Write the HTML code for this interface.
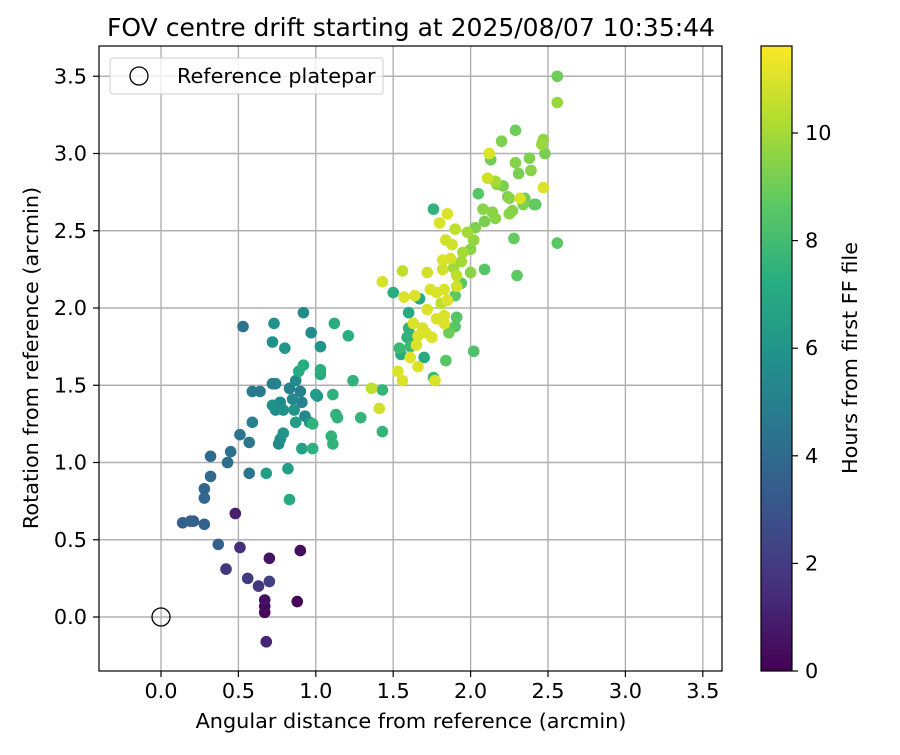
<!DOCTYPE html>
<html><head><meta charset="utf-8"><style>
body{margin:0;background:#fff}
svg text{font-family:"DejaVu Sans","Liberation Sans",sans-serif;fill:#000}
</style></head><body>
<svg id="chart" width="900" height="750" xmlns="http://www.w3.org/2000/svg">
<defs><linearGradient id="vir" x1="0" y1="1" x2="0" y2="0">
<stop offset="0" stop-color="#440154"/><stop offset="0.125" stop-color="#472d7b"/><stop offset="0.25" stop-color="#3b528b"/><stop offset="0.375" stop-color="#2c728e"/><stop offset="0.5" stop-color="#21918c"/><stop offset="0.625" stop-color="#28ae80"/><stop offset="0.75" stop-color="#5ec962"/><stop offset="0.875" stop-color="#addc30"/><stop offset="1" stop-color="#fde725"/></linearGradient>
<clipPath id="clip"><rect x="99" y="46" width="623" height="625"/></clipPath></defs>
<g id="grid"></g>
<g id="pts" clip-path="url(#clip)"></g>
<rect x="99" y="46" width="623" height="625" fill="none" stroke="#000" stroke-width="1.2"/>
<g id="ticks"></g>
<text x="411" y="36" font-size="25" text-anchor="middle">FOV centre drift starting at 2025/08/07 10:35:44</text>
<text x="411" y="728" font-size="20.8" text-anchor="middle">Angular distance from reference (arcmin)</text>
<text x="0" y="0" font-size="20.8" text-anchor="middle" transform="translate(38,358) rotate(-90)">Rotation from reference (arcmin)</text>
<g>
<rect x="110" y="58" width="273" height="36" rx="3" fill="#fff" fill-opacity="0.8" stroke="#ccc"/>
<circle cx="139" cy="76" r="9" fill="none" stroke="#000" stroke-width="1.3"/>
<text x="177" y="83" font-size="20.8">Reference platepar</text></g>
<rect x="761" y="46" width="31" height="625" fill="url(#vir)" stroke="#000" stroke-width="1.2"/>
<g id="cbt"></g>
<text x="0" y="0" font-size="20.8" text-anchor="middle" transform="translate(857,358) rotate(-90)">Hours from first FF file</text>
</svg>
<script>
const xVals=[0.48,0.51,0.42,0.56,0.63,0.67,0.67,0.67,0.68,0.70,0.70,0.90,0.88,0.14,0.19,0.21,0.28,0.28,0.28,0.32,0.32,0.37,0.43,0.45,0.51,0.57,0.57,0.53,0.59,0.59,0.64,0.72,0.74,0.77,0.74,0.76,0.77,0.79,0.80,0.73,0.72,0.72,0.79,0.82,0.83,0.68,0.83,0.85,0.87,0.86,0.87,0.90,0.89,0.91,0.92,0.92,0.93,0.91,0.96,0.97,0.98,0.98,1.00,1.03,1.03,1.03,1.01,1.10,1.11,1.12,1.11,1.13,1.14,1.21,1.24,1.29,1.36,1.41,1.43,1.43,1.43,1.50,1.53,1.54,1.56,1.55,1.56,1.57,1.59,1.60,1.60,1.61,1.61,1.62,1.63,1.64,1.65,1.66,1.67,1.66,1.69,1.70,1.71,1.72,1.72,1.74,1.75,1.76,1.76,1.77,1.78,1.78,1.80,1.81,1.82,1.82,1.83,1.83,1.83,1.84,1.84,1.85,1.85,1.86,1.87,1.88,1.89,1.90,1.90,1.90,1.91,1.91,1.91,1.94,1.94,1.95,1.98,2.00,2.00,2.02,2.02,2.03,2.05,2.08,2.09,2.09,2.11,2.12,2.13,2.14,2.16,2.16,2.17,2.20,2.21,2.24,2.25,2.25,2.27,2.28,2.29,2.29,2.30,2.31,2.32,2.34,2.35,2.38,2.39,2.41,2.42,2.46,2.47,2.47,2.48,2.56,2.56,2.56];
const yVals=[0.67,0.45,0.31,0.25,0.20,0.11,0.07,0.03,-0.16,0.38,0.23,0.43,0.10,0.61,0.62,0.62,0.60,0.77,0.83,1.04,0.91,0.47,1.00,1.07,1.18,1.13,0.93,1.88,1.46,1.26,1.46,1.51,1.51,1.39,1.34,1.12,1.15,1.19,1.74,1.90,1.78,1.37,1.34,0.96,0.76,0.93,1.48,1.41,1.53,1.34,1.26,1.46,1.59,1.39,1.63,1.97,1.30,1.09,1.26,1.84,1.25,1.09,1.44,1.75,1.57,1.60,1.43,1.17,1.12,1.90,1.44,1.31,1.29,1.82,1.53,1.29,1.48,1.35,1.47,1.20,2.17,2.10,1.59,1.74,1.53,1.70,2.24,2.07,1.81,1.97,1.87,1.75,1.68,1.82,1.90,2.08,1.76,1.62,2.06,1.82,1.87,1.68,1.84,1.99,2.23,2.12,1.81,1.55,2.64,1.53,1.93,2.10,2.55,2.03,2.31,2.25,2.12,1.95,1.90,2.44,1.66,2.61,2.05,1.84,2.32,2.41,2.26,1.88,2.08,2.51,2.21,1.94,2.14,2.30,2.16,2.36,2.49,2.38,2.23,1.72,2.44,2.52,2.74,2.64,2.25,2.56,2.84,3.00,2.96,2.62,2.82,2.58,2.80,3.08,2.79,2.72,2.71,2.61,2.63,2.45,3.15,2.94,2.21,2.87,2.71,2.67,2.71,2.97,2.89,2.67,2.67,3.06,3.09,2.78,3.00,3.50,3.33,2.42];
const hours=[1.0,1.5,1.8,2,1.8,0.5,0.3,0.2,1.2,0.6,2.2,0.4,0.1,3.5,3.6,3.4,3.6,3.8,3.8,4,4,3.6,4.2,4.3,4.5,4.6,4.5,4.4,4.7,5,4.8,4.9,5,5.5,5.5,5.5,5.6,6,6,5.8,5.8,5.8,5.8,6.5,7,6.5,5,5.4,5.5,6,6.4,5,7,5,7.2,5.5,5.3,6.6,6,5.6,7.5,7.4,6.3,6,7,7.3,6,7.5,7.5,7.2,7.4,7.5,7.5,7.3,7.5,7.6,10.5,10.8,7.6,7.6,10.9,7.2,11,7.8,11,7,10.5,11,7.5,7,7.5,7.8,11,7,11,11,11,11,7,11,11,7,11,11,10.8,11,11,8,7.5,11,11,11,11,10.5,11,10.8,11,11,11,10.8,8.5,11,11,9,11,10.8,10,8.5,8.6,10.5,10.5,8.5,10.8,10,8.6,10,10,9.5,9.5,8.3,9.7,9.3,8.5,9.5,8.5,9.2,10.8,11,9,9.5,10,9.5,9.5,9.3,9.2,9.2,9.5,9.5,9.4,8.8,9,9.4,8.7,9.2,11,9.3,9,9.3,9.5,8.8,8.5,9.8,9.6,11,9.2,9,9.8,8.6];
const xTicks=["0.0","0.5","1.0","1.5","2.0","2.5","3.0","3.5"];
const yTicks=["0.0","0.5","1.0","1.5","2.0","2.5","3.0","3.5"];
const cTicks=["0","2","4","6","8","10"];
const X=v=>161+v*154.8, Y=v=>617-v*154.5, C=v=>671-v*53.8, HMAX=11.62;
const vir=["#440154","#472d7b","#3b528b","#2c728e","#21918c","#28ae80","#5ec962","#addc30","#fde725"];
function hex(c){return [1,3,5].map(i=>parseInt(c.substr(i,2),16))}
function col(h){let t=Math.max(0,Math.min(1,h/HMAX))*8,i=Math.min(7,Math.floor(t)),f=t-i,a=hex(vir[i]),b=hex(vir[i+1]);return "rgb("+a.map((v,k)=>Math.round(v+(b[k]-v)*f)).join(",")+")"}
const NS="http://www.w3.org/2000/svg";
function mk(tag,attrs,parent){const e=document.createElementNS(NS,tag);for(const k in attrs)e.setAttribute(k,attrs[k]);document.getElementById(parent).appendChild(e);return e}
xTicks.forEach(t=>{const x=X(+t);
 const g=mk("line",{x1:x,x2:x,y1:46,y2:671,stroke:"#b0b0b0","stroke-width":1.4},"grid");
 
 
 mk("line",{x1:x,x2:x,y1:671,y2:677,stroke:"#000","stroke-width":1.2},"ticks");
 const l=mk("text",{x:x,y:698,"font-size":20.8,"text-anchor":"middle"},"ticks");l.textContent=t;
 
 });
yTicks.forEach(t=>{const y=Y(+t);
 const g=mk("line",{x1:99,x2:722,y1:y,y2:y,stroke:"#b0b0b0","stroke-width":1.4},"grid");
 
 
 mk("line",{x1:93,x2:99,y1:y,y2:y,stroke:"#000","stroke-width":1.2},"ticks");
 const l=mk("text",{x:87,y:y+7,"font-size":20.8,"text-anchor":"end"},"ticks");l.textContent=t;
 
 });
cTicks.forEach(t=>{const y=C(+t);
 mk("line",{x1:792,x2:798,y1:y,y2:y,stroke:"#000","stroke-width":1.2},"cbt");
 const l=mk("text",{x:805,y:y+7,"font-size":20.8},"cbt");l.textContent=t;
 
 });
const order=hours.map((h,i)=>i).sort((a,b)=>hours[a]-hours[b]);
order.forEach(i=>{const c=mk("circle",{cx:X(xVals[i]),cy:Y(yVals[i]),r:5.8,fill:col(hours[i])},"pts");
 
 });
const ref=mk("circle",{cx:X(0),cy:Y(0),r:9,fill:"none",stroke:"#000","stroke-width":1.3},"pts");


</script>
</body></html>
